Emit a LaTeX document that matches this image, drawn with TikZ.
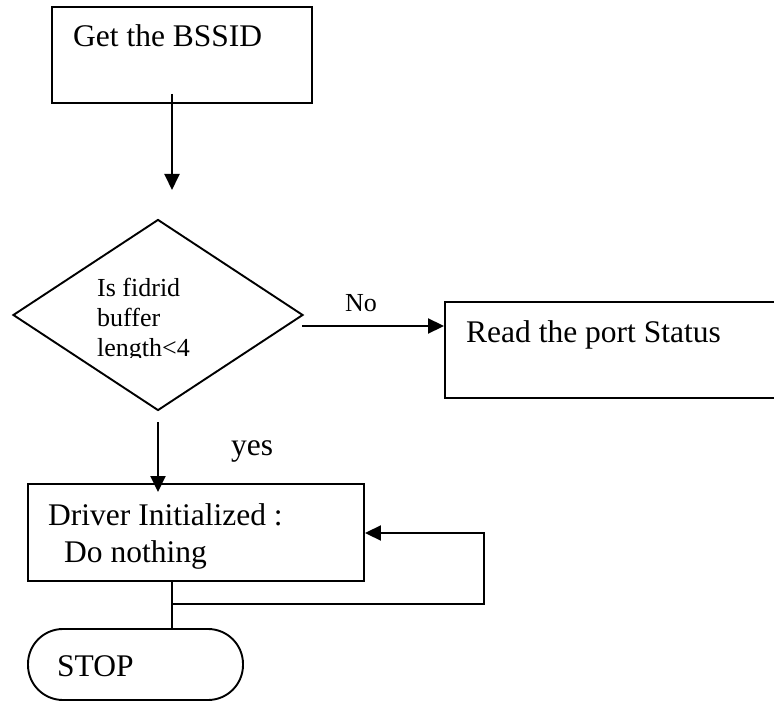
\documentclass[tikz,border=0pt]{standalone}
\usepackage{fontspec}
\setmainfont{Liberation Serif}
\usetikzlibrary{arrows.meta,shapes.geometric}
\tikzset{
  box/.style={draw, line width=1.9pt, inner sep=0pt},
  dia/.style={draw, diamond, line width=1.9pt, inner sep=0pt},
  big/.style={inner sep=0pt, anchor=base west, font=\fontsize{31.5}{36}\selectfont},
  small/.style={inner sep=0pt, anchor=base west, font=\fontsize{26}{30}\selectfont},
  conn/.style={line width=1.9pt},
  arr/.style={line width=1.9pt, -{Triangle[length=16pt,width=15pt]}}
}
\begin{document}
\begin{tikzpicture}[x=1pt,y=-1pt]
\useasboundingbox (0,0) rectangle (774,703);
% boxes
\node[box, minimum width=260pt, minimum height=96pt] (b1) at (182,55) {};
\node[big] (t1) at (73,47) {Get the BSSID};
\node[dia, minimum width=290pt, minimum height=191pt] (d1) at (158,315) {};
\begin{scope}
  \clip (0,200) rectangle (320,358);
  \node[small] (q1) at (97,297) {Is fidrid};
  \node[small] (q2) at (97,327) {buffer};
  \node[small] (q3) at (97,357) {length<4};
\end{scope}
\node[box, minimum width=375pt, minimum height=96pt] (rd) at (632.5,350) {};
\node[big] (t2) at (466,343) {Read the port Status};
\node[box, minimum width=336pt, minimum height=97pt] (drv) at (196,532.5) {};
\node[big] (t3) at (48,525) {Driver Initialized :};
\node[big] (t4) at (64,562) {Do nothing};
\node[box, rounded corners=35pt, minimum width=215pt, minimum height=71pt] (stop) at (135.5,664.5) {};
\node[big] (t5) at (57,676) {STOP};
% labels
\node[small] (lno) at (345,312) {No};
\node[big] (lyes) at (231,455) {yes};
% connectors
\coordinate (a1s) at (172,94);
\coordinate (a1e) at (172,190);
\draw[arr] (a1s) -- (a1e);
\coordinate (a2s) at (302,326);
\draw[arr] (a2s) -- (a2s -| rd.west);
\coordinate (a3s) at (158,422);
\coordinate (a3e) at (158,492);
\draw[arr] (a3s) -- (a3e);
\coordinate (l1) at (172,581);
\coordinate (l2) at (172,604);
\coordinate (l3) at (484,604);
\coordinate (l4) at (484,533);
\draw[conn] (l1) -- (l1 |- stop.north);
\draw[arr] (l2) -- (l3) -- (l4) -- (l4 -| drv.east);
\end{tikzpicture}
\end{document}
